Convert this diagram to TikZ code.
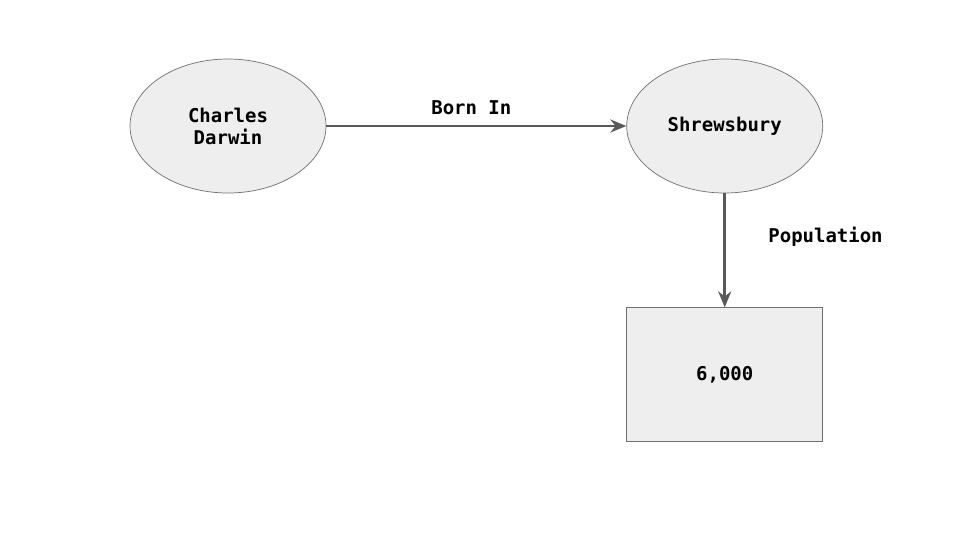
\documentclass[tikz,border=0pt]{standalone}
\usepackage{fontspec}
\setmonofont{DejaVu Sans Mono}
\usetikzlibrary{arrows.meta,positioning,shapes.geometric}
\definecolor{boxfill}{HTML}{EEEEEE}
\definecolor{boxline}{HTML}{707070}
\definecolor{arrowgray}{HTML}{595959}
\begin{document}
\begin{tikzpicture}[x=0.2mm,y=-0.2mm,>={Stealth[length=3.2mm,width=2.6mm]},node distance=60mm,
    every node/.style={font=\ttfamily\bfseries\fontsize{10.8}{12.5}\selectfont,align=center},
    entity/.style={ellipse,draw=boxline,fill=boxfill,minimum width=39.2mm,minimum height=26.8mm},
    valuebox/.style={rectangle,draw=boxline,fill=boxfill,minimum width=39.2mm,minimum height=26.8mm},
    link/.style={->,draw=arrowgray,fill=arrowgray,line width=1.5pt}]
    \useasboundingbox (0,0) rectangle (960,540);
    \node[entity] (darwin) at (228,126) {Charles\\Darwin};
    \node[entity] (town) [right=of darwin] {Shrewsbury};
    \node[valuebox] (pop) [below=22.8mm of town] {6,000};
    \draw[link] (darwin)--(town) node[midway,above=0.9mm,xshift=-1mm,draw=none,fill=none] (bornin) {Born In};
    \draw[link] (town)--(pop) node[pos=0.38,right=7.3mm,draw=none,fill=none] (population) {Population};
  \end{tikzpicture}
\end{document}
